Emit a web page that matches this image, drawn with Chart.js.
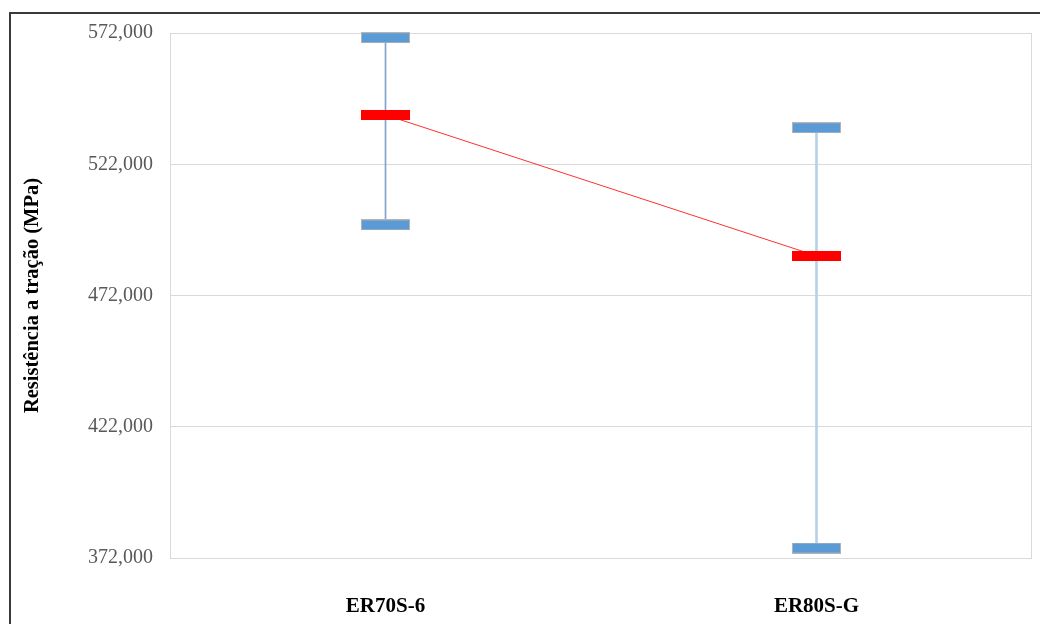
<!DOCTYPE html>
<html>
<head>
<meta charset="utf-8">
<script src="https://cdn.jsdelivr.net/npm/chart.js@4.4.1/dist/chart.umd.min.js"></script>
<style>
  html, body { margin: 0; padding: 0; background: #ffffff; }
  canvas { display: block; }
</style>
</head>
<body>
<canvas id="chart" width="1040" height="624"></canvas>
<script>
// Tensile strength per filler wire (MPa)
const categories = ['ER70S-6', 'ER80S-G'];
const maxValues  = [570.2, 535.9];
const meanValues = [540.8, 487.1];
const minValues  = [498.9, 375.8];
const yTickValues = [372, 422, 472, 522, 572];

const SERIF = '"Liberation Serif", "Times New Roman", serif';

// Flat rectangular markers used as point styles
function makeMarker(w, h, fill, stroke) {
  const c = document.createElement('canvas');
  c.width = w; c.height = h;
  const g = c.getContext('2d');
  g.fillStyle = fill;
  g.fillRect(0, 0, w, h);
  if (stroke) {
    g.strokeStyle = stroke;
    g.lineWidth = 1;
    g.strokeRect(0.5, 0.5, w - 1, h - 1);
  }
  return c;
}
const blueMarker = makeMarker(49, 11, '#5b9bd5', '#b4b4b4');
const redMarker  = makeMarker(49, 10, '#ff0000', null);

// Frame around the plot area and the outer chart edge
const framePlugin = {
  id: 'frame',
  beforeDatasetsDraw(chart) {
    const { ctx, chartArea: a } = chart;
    ctx.save();
    ctx.strokeStyle = '#d9d9d9';
    ctx.lineWidth = 1;
    ctx.strokeRect(Math.round(a.left) + 0.5, Math.round(a.top) + 0.5,
                   Math.round(a.right - a.left) - 1, Math.round(a.bottom - a.top));
    ctx.restore();
  },
  afterDraw(chart) {
    const { ctx } = chart;
    ctx.save();
    ctx.fillStyle = '#3a3a3a';
    ctx.fillRect(10, 12, chart.width - 10, 2);
    ctx.fillRect(9, 12, 2, chart.height - 12);
    ctx.restore();
  }
};

new Chart(document.getElementById('chart'), {
  data: {
    labels: categories,
    datasets: [
      {
        type: 'bar',
        label: 'Faixa ER70S-6',
        data: [[minValues[0], maxValues[0]], null],
        backgroundColor: '#7fa3cf',
        barThickness: 1,
        grouped: false,
        order: 3
      },
      {
        type: 'bar',
        label: 'Faixa ER80S-G',
        data: [null, [minValues[1], maxValues[1]]],
        backgroundColor: '#b8d0ea',
        barThickness: 2,
        grouped: false,
        order: 3
      },
      {
        type: 'line',
        label: 'Média',
        data: meanValues,
        borderColor: '#ff3030',
        borderWidth: 1,
        pointStyle: redMarker,
        pointRadius: 5,
        fill: false,
        clip: false,
        order: 1
      },
      {
        type: 'line',
        label: 'Máximo',
        data: maxValues,
        showLine: false,
        pointStyle: blueMarker,
        pointRadius: 5,
        clip: false,
        order: 0
      },
      {
        type: 'line',
        label: 'Mínimo',
        data: minValues,
        showLine: false,
        pointStyle: blueMarker,
        pointRadius: 5,
        clip: false,
        order: 0
      }
    ]
  },
  options: {
    responsive: false,
    animation: false,
    events: [],
    devicePixelRatio: 1,
    layout: { padding: { left: 12, right: 8, top: 33, bottom: 0 } },
    plugins: {
      legend: { display: false },
      tooltip: { enabled: false }
    },
    scales: {
      x: {
        type: 'category',
        offset: true,
        grid: { display: false, drawTicks: false },
        border: { display: false },
        ticks: {
          color: '#000000',
          padding: 36,
          font: { family: SERIF, size: 21, weight: 'bold' }
        },
        afterFit(scale) { scale.height = 66; }
      },
      y: {
        min: 372,
        max: 572,
        afterBuildTicks(scale) {
          scale.ticks = yTickValues.map(v => ({ value: v }));
        },
        grid: { color: '#d9d9d9', lineWidth: 1, drawTicks: false },
        border: { display: false },
        ticks: {
          color: '#595959',
          padding: 17,
          font: { family: SERIF, size: 20 },
          callback: v => Number(v).toFixed(3).replace('.', ',')
        },
        title: {
          display: true,
          text: 'Resistência a tração (MPa)',
          color: '#000000',
          padding: { top: 8, bottom: 0 },
          font: { family: SERIF, size: 20.5, weight: 'bold' }
        },
        afterFit(scale) { scale.width = 158; }
      }
    }
  },
  plugins: [framePlugin]
});
</script>
</body>
</html>
